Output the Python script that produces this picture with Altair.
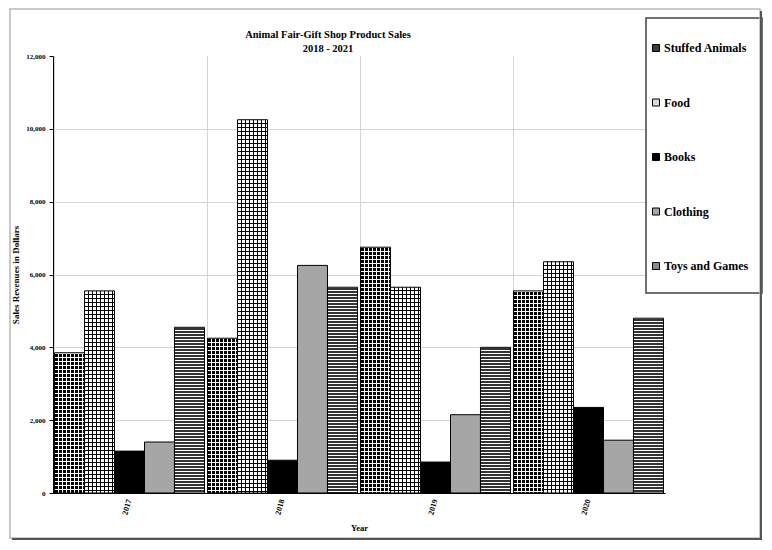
import altair as alt
import pandas as pd

years = ["2017", "2018", "2019", "2020"]
products = ["Stuffed Animals", "Food", "Books", "Clothing", "Toys and Games"]
stuffed = [3850, 4250, 6750, 5550]
food = [5550, 10250, 5650, 6350]
books = [1150, 900, 850, 2350]
clothing = [1400, 6250, 2150, 1450]
toys = [4550, 5650, 4000, 4800]
y_ticks = [0, 2000, 4000, 6000, 8000, 10000, 12000]

series = [stuffed, food, books, clothing, toys]
rows = []
for p, vals in zip(products, series):
    for y, v in zip(years, vals):
        rows.append({"Year": y, "Product": p, "Sales": v})
df = pd.DataFrame(rows)

W, H = 612, 437
YMAX = 12000
FONT = "Liberation Serif"
PAD_IN, PAD_OUT = 0.02, 0.01
BAR_W = W / (len(years) - PAD_IN + 2 * PAD_OUT) * (1 - PAD_IN) / len(products)


def stripes(length, period, on_px, c_on, c_off, vertical):
    """Hard-edged stripes of a fixed pixel period over a mark of `length` px."""
    stops = []
    start = 0.0
    while start < length - 1e-9:
        a = start / length
        b = min(start + period - on_px, length) / length
        c = min(start + period, length) / length
        stops += [
            {"offset": round(a, 8), "color": c_off},
            {"offset": round(b, 8), "color": c_off},
            {"offset": round(b, 8), "color": c_on},
            {"offset": round(c, 8), "color": c_on},
        ]
        start += period
    return {
        "gradient": "linear",
        "x1": 0, "y1": 0,
        "x2": 0 if vertical else 1,
        "y2": 1 if vertical else 0,
        "stops": stops,
    }


def per_year_rows(vals, period, on_px, c_on, c_off):
    conds = []
    for y, v in zip(years, vals):
        h = v / YMAX * H
        conds.append({"test": f"datum.Year == '{y}'",
                      "value": stripes(h, period, on_px, c_on, c_off, True)})
    return {"condition": conds, "value": "transparent"}


T = "rgba(255,255,255,0)"

x_enc = alt.X("Year:N", sort=years,
              scale=alt.Scale(paddingInner=PAD_IN, paddingOuter=PAD_OUT),
              axis=alt.Axis(labelAngle=-75, labelFontSize=8, labelFontWeight="bold",
                            labelColor="black", labelPadding=6, ticks=False, grid=False,
                            domainColor="black", domainWidth=1,
                            title="Year", titleFontSize=8.5, titleFontWeight="bold",
                            titleColor="black", titlePadding=8))
xo_enc = alt.XOffset("Product:N", sort=products,
                     scale=alt.Scale(domain=products, paddingInner=0, paddingOuter=0))
y_enc = alt.Y("Sales:Q",
              scale=alt.Scale(domain=[0, YMAX], nice=False),
              axis=alt.Axis(values=y_ticks, format=",d", labelFontSize=7,
                            labelFontWeight="bold", labelColor="black", labelPadding=4,
                            tickSize=4, tickColor="black", domainColor="black",
                            gridColor="#d4d4d4",
                            gridOpacity={"condition": {"test": "datum.value === 12000", "value": 0}, "value": 1},
                            title="Sales Revenues in Dollars", titleFontSize=9,
                            titleFontWeight="bold", titleColor="black", titlePadding=5))

base = alt.Chart(df)

vgrid = alt.Chart(df).transform_filter(alt.datum.Product == products[0]).mark_rule(
    color="#d4d4d4", strokeWidth=1
).encode(
    x=alt.X("Year:N", sort=years, bandPosition=0),
    y=alt.value(0),
    y2=alt.value(H),
)

bars = base.mark_bar(strokeWidth=0).encode(
    x=x_enc, xOffset=xo_enc, y=y_enc,
    color=alt.Color("Product:N", sort=products,
                    scale=alt.Scale(domain=products,
                                    range=["#3c3c3c", "#d8d8d8", "#000000", "#a6a6a6", "#8a8a8a"]),
                    legend=alt.Legend(title=None, orient="none", legendX=597, legendY=-14,
                                      symbolType="square", symbolSize=49,
                                      symbolStrokeColor="black", symbolStrokeWidth=1,
                                      labelFontSize=12, labelFontWeight="bold",
                                      labelColor="black", labelOffset=2,
                                      rowPadding=42.5, padding=0)),
)


def pattern_layer(product, fill):
    return base.transform_filter(alt.datum.Product == product).mark_bar(strokeWidth=0).encode(
        x=alt.X("Year:N", sort=years), xOffset=alt.XOffset("Product:N", sort=products),
        y="Sales:Q", fill=fill)


# Stuffed animals: black dots
st_rows = pattern_layer("Stuffed Animals", per_year_rows(stuffed, 4, 3, "#000000", "#ffffff"))
st_cols = pattern_layer("Stuffed Animals", {"value": stripes(BAR_W, 4, 1, "#ffffff", T, False)})
# Food: grid lines
fd_rows = pattern_layer("Food", per_year_rows(food, 4, 1, "#000000", "#ffffff"))
fd_cols = pattern_layer("Food", {"value": stripes(BAR_W, 4, 1, "#000000", T, False)})
# Toys: horizontal stripes
ty_rows = pattern_layer("Toys and Games", per_year_rows(toys, 3, 2, "#333333", "#ffffff"))

outline = base.mark_bar(fill="transparent", stroke="black", strokeWidth=1).encode(
    x=alt.X("Year:N", sort=years), xOffset=alt.XOffset("Product:N", sort=products),
    y="Sales:Q")

# decorations: outer frame with shadow, legend box
frame_df = pd.DataFrame({"k": [0]})
frame = alt.Chart(frame_df).mark_rect(filled=False, stroke="#b8b8b8", strokeWidth=1.5).encode(
    x=alt.value(-43), x2=alt.value(707), y=alt.value(-47), y2=alt.value(482))
shadow_r = alt.Chart(frame_df).mark_rule(stroke="#555555", strokeWidth=2).encode(
    x=alt.value(708), y=alt.value(-45), y2=alt.value(484))
shadow_b = alt.Chart(frame_df).mark_rule(stroke="#555555", strokeWidth=2).encode(
    x=alt.value(-41), x2=alt.value(709), y=alt.value(483))
legend_box = alt.Chart(frame_df).mark_rect(fill="white", stroke="#444444", strokeWidth=1.5).encode(
    x=alt.value(593), x2=alt.value(709), y=alt.value(-38), y2=alt.value(237))

chart = alt.layer(
    vgrid, bars, st_rows, st_cols, fd_rows, fd_cols, ty_rows, outline,
    legend_box, frame, shadow_r, shadow_b
).properties(
    width=W, height=H,
    autosize=alt.AutoSizeParams(type="none"),
    padding={"left": 45, "top": 48, "right": 99, "bottom": 49},
    title=alt.TitleParams(["Animal Fair-Gift Shop Product Sales", "2018 - 2021"],
                          fontSize=10.5, fontWeight="bold", color="black",
                          anchor="middle", dx=-31, dy=46, offset=0, lineHeight=14),
).configure(font=FONT).configure_view(stroke=None)

chart.save("out.html", embed_options={"renderer": "svg", "actions": False})
